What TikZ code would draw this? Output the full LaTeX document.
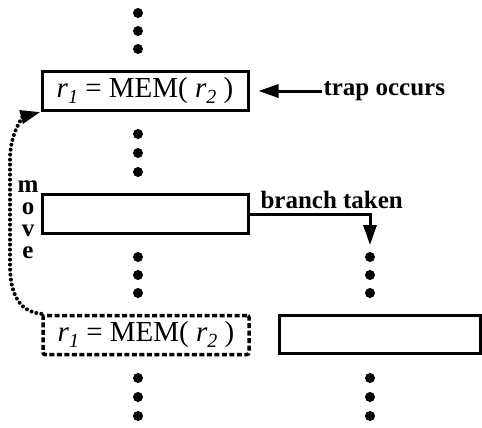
\documentclass[tikz,border=0pt]{standalone}
\usepackage{fontspec}
\setmainfont{Liberation Serif}
\usetikzlibrary{arrows.meta}

\newcommand{\loadtext}{\textit{r}\raisebox{-0.45ex}{\fontsize{20}{20}\selectfont\textit{1}} = MEM( \textit{r}\raisebox{-0.45ex}{\fontsize{20}{20}\selectfont\textit{2}} )}

\begin{document}
\begin{tikzpicture}[x=1pt,y=-1pt,line width=3pt,font=\fontsize{29}{30}\selectfont,
  instr/.style={draw,minimum width=206pt,minimum height=39pt,inner sep=0pt},
  lbl/.style={font=\fontsize{25}{22}\selectfont\bfseries,inner sep=0pt},
  >={Triangle[length=20pt,width=13pt]}]
\useasboundingbox (0,0) rectangle (482,428);
\foreach \y in {13,31,49,134,153,172,257,275,293,378,397,416} \fill (138,\y) circle (5);
\foreach \y in {257,275,293,378,397,416} \fill (370,\y) circle (5);
\node[instr] (load) at (145,91) {\loadtext};
\node[instr] (br) at (145,214) {};
\node[instr,dash pattern=on 5pt off 2.5pt,line width=3.5pt,rounded corners=2pt] (load2) at (146,335) {\loadtext};
\node[draw,minimum width=201pt,minimum height=38pt,inner sep=0pt] (tgt) at (379.5,334) {};
\node[lbl,anchor=west] (trap) at (322,91) {trap occurs};
\draw[->,shorten >=9pt] (trap.west) -- (load.east);
\node[lbl,anchor=base west] (taken) at (259,208) {branch taken};
\coordinate (brdot) at (370,245);
\draw[->] (br.east) -| (brdot);
\node[lbl,align=center] (mv) at (28,220) {m\\o\\v\\e};
\draw[->,dash pattern=on 0pt off 5pt,line cap=round,line width=4pt]
  (load2.north west) .. controls (20,312) and (10,295) .. (10,265)
  -- (10,160) .. controls (10,130) and (25,116) .. (load.south west);
\end{tikzpicture}
\end{document}
